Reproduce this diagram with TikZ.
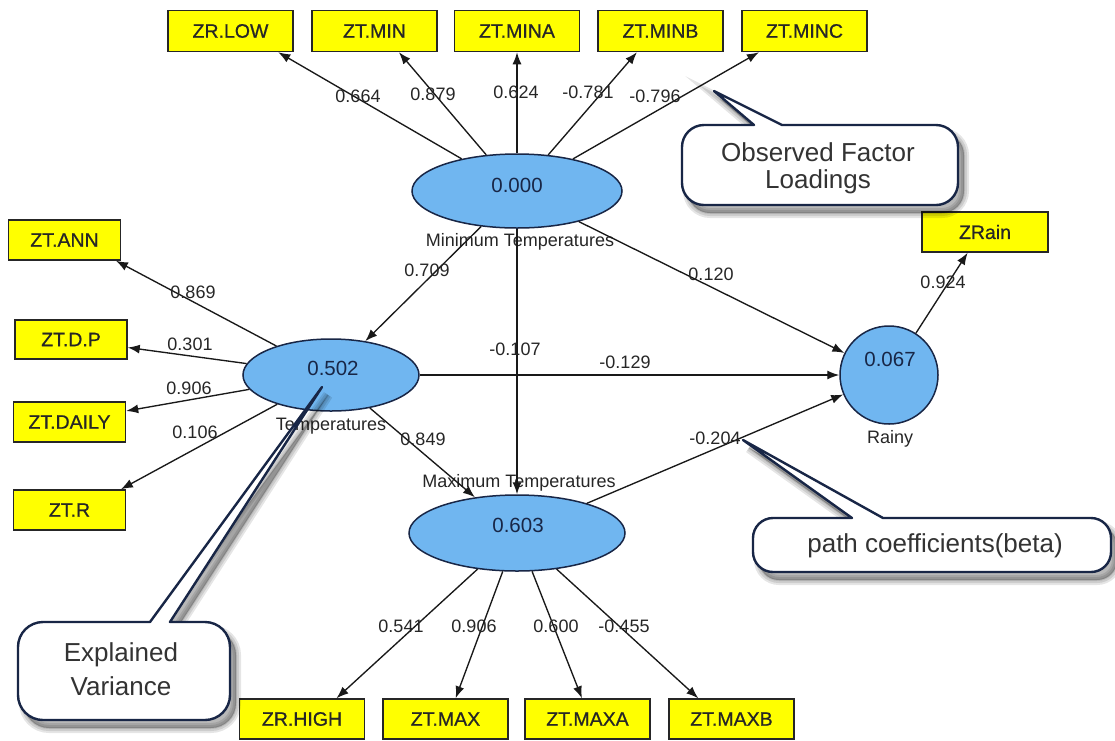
\documentclass[tikz,border=0pt]{standalone}
\usepackage{fontspec}
\setmainfont{Liberation Sans}
\newfontfamily\boxfont[FakeBold=0.7]{Liberation Sans}
\usetikzlibrary{arrows.meta,shapes.geometric}

\definecolor{latent}{RGB}{112,182,240}
\definecolor{navy}{RGB}{24,38,70}
\definecolor{indic}{RGB}{255,255,0}

\tikzset{
  indbox/.style={draw=black!85, line width=1.5pt, fill=indic, inner sep=0pt,
    minimum height=41pt, minimum width=125pt, font=\boxfont\fontsize{19.5}{22}\selectfont, text=black!85},
  sidebox/.style={indbox, minimum width=112pt, minimum height=40pt},
  latentvar/.style={ellipse, draw=navy, line width=1.5pt, fill=latent, inner sep=0pt},
  rainvar/.style={circle, draw=navy, line width=1.5pt, fill=latent, inner sep=0pt, minimum size=98pt},
  val/.style={font=\fontsize{20.5}{22}\selectfont, text=navy, inner sep=0pt},
  vname/.style={font=\fontsize{18}{20}\selectfont, text=black!85, inner sep=0pt},
  coef/.style={font=\fontsize{18}{20}\selectfont, text=black!85, inner sep=0pt},
  link/.style={draw=black!90, line width=1.35pt, -{Latex[length=12pt,width=9pt]}},
  callout/.style={draw=navy, line width=2.4pt, fill=white, line join=round},
  calloutshade/.style={draw=black, fill=black, opacity=0.1, shift={(6,8)}},
  callouttext/.style={font=\fontsize{26}{30}\selectfont, text=black!80, inner sep=0pt},
}

% callout outlines: rounded body with a sharp pointer
\def\obspath{(820,205) [rounded corners=22pt] -- (682,205) -- (682,125)
  [sharp corners] -- (754,125) -- (714,91) -- (782,125) [rounded corners=22pt] -- (958,125) -- (958,205) -- cycle}
\def\betapath{(930,572) [rounded corners=20pt] -- (753,572) -- (753,518)
  [sharp corners] -- (852,518) -- (743,440) -- (883,518) [rounded corners=20pt] -- (1111,518) -- (1111,572) -- cycle}
\def\evpath{(120,720) [rounded corners=25pt] -- (18,720) -- (18,622)
  [sharp corners] -- (150,622) -- (322,387) -- (170,622) [rounded corners=25pt] -- (230,622) -- (230,720) -- cycle}

\begin{document}
\begin{tikzpicture}[x=1pt, y=-1pt]
\useasboundingbox (0,0) rectangle (1115,740);
\fill[white] (0,0) rectangle (1115,740);

% latent variables
\node[latentvar, minimum width=210pt, minimum height=74pt] (tmin) at (517,191) {};
\node[latentvar, minimum width=176pt, minimum height=72pt] (temps) at (331,375) {};
\node[latentvar, minimum width=216pt, minimum height=76pt] (tmax) at (517,533) {};
\node[rainvar] (rainy) at (889,375) {};

\node[val] (tminv) at (517,185) {0.000};
\node[val] (tempsv) at (333,368) {0.502};
\node[val] (tmaxv) at (518,525) {0.603};
\node[val] (rainyv) at (890,359) {0.067};

\node[vname] (tminn) at (520,242) {Minimum Temperatures};
\node[vname] (tempsn) at (331,426) {Temperatures};
\node[vname] (tmaxn) at (519,483) {Maximum Temperatures};
\node[vname] (rainyn) at (890,439) {Rainy};

% indicators of the minimum temperatures
\node[indbox] (zrlow)  at (230.5,31) {ZR.LOW};
\node[indbox] (ztmin)  at (374.5,31) {ZT.MIN};
\node[indbox] (ztmina) at (517,31)   {ZT.MINA};
\node[indbox] (ztminb) at (660.5,31) {ZT.MINB};
\node[indbox] (ztminc) at (804.5,31) {ZT.MINC};

% indicators of the temperatures
\node[sidebox] (ztann)   at (64.5,240) {ZT.ANN};
\node[sidebox, minimum height=39pt] (ztdp) at (71,339.5) {ZT.D.P};
\node[sidebox] (ztdaily) at (69.5,422) {ZT.DAILY};
\node[sidebox] (ztr)     at (69.5,510) {ZT.R};

% indicators of the maximum temperatures
\node[indbox, minimum height=40pt] (zrhigh) at (302,719)   {ZR.HIGH};
\node[indbox, minimum height=40pt] (ztmax)  at (445.5,719) {ZT.MAX};
\node[indbox, minimum height=40pt] (ztmaxa) at (587.5,719) {ZT.MAXA};
\node[indbox, minimum height=40pt] (ztmaxb) at (731.5,719) {ZT.MAXB};

% indicator of rain
\node[indbox, minimum width=126pt, minimum height=40pt] (zrain) at (985,232) {ZRain};

% loadings
\draw[link] (tmin) -- (zrlow.-24.3);
\draw[link] (tmin) -- (ztmin.-41.8);
\draw[link] (tmin) -- (ztmina.south);
\draw[link] (tmin) -- (ztminb.-138.2);
\draw[link] (tmin) -- (ztminc.-155.7);

\draw[link] (temps) -- (ztann.-22.6);
\draw[link] (temps) -- (ztdp.-8.5);
\draw[link] (temps) -- (ztdaily.11.2);
\draw[link] (temps) -- (ztr.22.8);

\draw[link] (tmax) -- (zrhigh.31);
\draw[link] (tmax) -- (ztmax.64.6);
\draw[link] (tmax) -- (ztmaxa.105);
\draw[link] (tmax) -- (ztmaxb.148);

\draw[link] (rainy) -- (zrain.-130.4);

% structural paths
\draw[link] (tmin) -- (temps);
\draw[link] (tmin) -- (rainy);
\draw[link] (tmin) -- (tmax);
\draw[link] (temps) -- (rainy);
\draw[link] (temps) -- (tmax);
\draw[link] (tmax) -- (rainy);

% coefficient labels
\node[coef] (c1) at (358,96) {0.664};
\node[coef] (c2) at (433,94) {0.879};
\node[coef] (c3) at (516,92) {0.624};
\node[coef] (c4) at (588,92) {-0.781};
\node[coef] (c5) at (655,96) {-0.796};

\node[coef] (c6) at (193,292) {0.869};
\node[coef] (c7) at (190,344) {0.301};
\node[coef] (c8) at (189,388) {0.906};
\node[coef] (c9) at (195,432) {0.106};

\node[coef] (c10) at (427,270) {0.709};
\node[coef] (c11) at (711,274) {0.120};
\node[coef] (c12) at (515,349) {-0.107};
\node[coef] (c13) at (625,362) {-0.129};
\node[coef] (c14) at (423,439) {0.849};
\node[coef] (c15) at (715,438) {-0.204};
\node[coef] (c16) at (943,282) {0.924};

\node[coef] (c17) at (401,626) {0.541};
\node[coef] (c18) at (474,626) {0.906};
\node[coef] (c19) at (556,626) {0.600};
\node[coef] (c20) at (624,626) {-0.455};

% callouts with soft drop shadows
\foreach \w in {10,6,2} {
  \draw[calloutshade, line width=\w pt] \obspath;
  \draw[calloutshade, line width=\w pt] \betapath;
  \draw[calloutshade, line width=\w pt] \evpath;
}
\draw[callout] \obspath;
\draw[callout] \betapath;
\draw[callout] \evpath;

\node[callouttext] (obs1) at (818,152) {Observed Factor};
\node[callouttext] (obs2) at (818,182) {Loadings};
\node[callouttext] (beta) at (935,546) {path coefficients(beta)};
\node[callouttext] (ev1) at (121,655) {Explained};
\node[callouttext] (ev2) at (121,686) {Variance};
\end{tikzpicture}
\end{document}
